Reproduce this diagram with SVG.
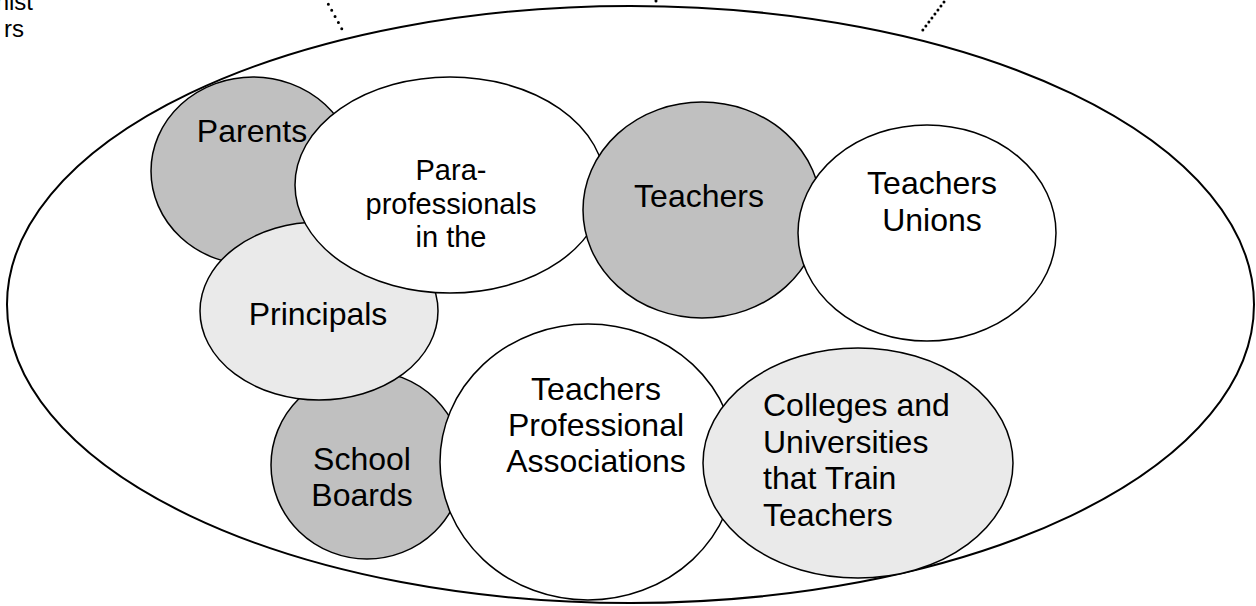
<svg xmlns="http://www.w3.org/2000/svg" width="1256" height="606" viewBox="0 0 1256 606">
  <style>
    .node { stroke: #000; stroke-width: 1.5; }
    .dark { fill: #c0c0c0; }
    .light { fill: #eaeaea; }
    .white { fill: #fff; }
    .lbl { font-family: "Liberation Sans", Arial, sans-serif; font-size: 32px; fill: #000; }
    .mid { text-anchor: middle; }
    .small { font-size: 29px; }
    .corner { font-size: 24px; text-anchor: end; }
    .dots { fill: none; stroke: #000; stroke-width: 3; stroke-linecap: round; }
  </style>
  <rect width="1256" height="606" fill="#fff"/>

  <!-- labels of the outer figure, partly beyond the top-left edge -->
  <g id="outer-labels">
    <text class="lbl corner" x="33" y="10">nist</text>
    <text class="lbl corner" x="24" y="37">rs</text>
  </g>

  <!-- dotted links entering the surrounding ellipse -->
  <g id="connectors">
    <path class="dots" d="M325,-2 L343,31" stroke-dasharray="0 7"/>
    <path class="dots" d="M656,-6 L656,4" stroke-dasharray="0 7" stroke-linecap="square"/>
    <path class="dots" d="M947,-2 L922,31" stroke-dasharray="0 5" stroke-linecap="square" stroke-width="2.5"/>
  </g>

  <!-- surrounding ellipse -->
  <g id="community">
    <ellipse cx="630.5" cy="304.5" rx="623.5" ry="298.5" fill="none" stroke="#000" stroke-width="2"/>
  </g>

  <g id="parents">
    <ellipse class="node dark" cx="253" cy="171" rx="102" ry="94"/>
  </g>
  <g id="school-boards">
    <ellipse class="node dark" cx="367" cy="465" rx="96" ry="94"/>
  </g>
  <g id="principals">
    <ellipse class="node light" cx="319" cy="311" rx="119" ry="89"/>
    <text class="lbl mid" x="318" y="325">Principals</text>
  </g>
  <g id="paraprofessionals">
    <ellipse class="node white" cx="450" cy="185" rx="155" ry="108"/>
    <text class="lbl mid small" x="451" y="180">Para-</text>
    <text class="lbl mid small" x="451" y="214">professionals</text>
    <text class="lbl mid small" x="451" y="247">in the</text>
  </g>
  <!-- drawn after the para-professionals ellipse so the label stays readable -->
  <g id="parents-label">
    <text class="lbl mid" x="252" y="142">Parents</text>
  </g>
  <g id="teachers">
    <ellipse class="node dark" cx="702" cy="210" rx="119" ry="108"/>
    <text class="lbl mid" x="699" y="207">Teachers</text>
  </g>
  <g id="teachers-unions">
    <ellipse class="node white" cx="927" cy="233" rx="129" ry="108"/>
    <text class="lbl mid" x="932" y="194">Teachers</text>
    <text class="lbl mid" x="932" y="231">Unions</text>
  </g>
  <g id="school-boards-label">
    <text class="lbl mid" x="362" y="470">School</text>
    <text class="lbl mid" x="362" y="506">Boards</text>
  </g>
  <g id="professional-associations">
    <ellipse class="node white" cx="588" cy="462" rx="148" ry="138"/>
    <text class="lbl mid" x="596" y="400">Teachers</text>
    <text class="lbl mid" x="596" y="436">Professional</text>
    <text class="lbl mid" x="596" y="472">Associations</text>
  </g>
  <g id="colleges">
    <ellipse class="node light" cx="858" cy="463" rx="155" ry="115"/>
    <text class="lbl" x="763" y="416">Colleges and</text>
    <text class="lbl" x="763" y="453">Universities</text>
    <text class="lbl" x="763" y="489">that Train</text>
    <text class="lbl" x="763" y="526">Teachers</text>
  </g>
</svg>
